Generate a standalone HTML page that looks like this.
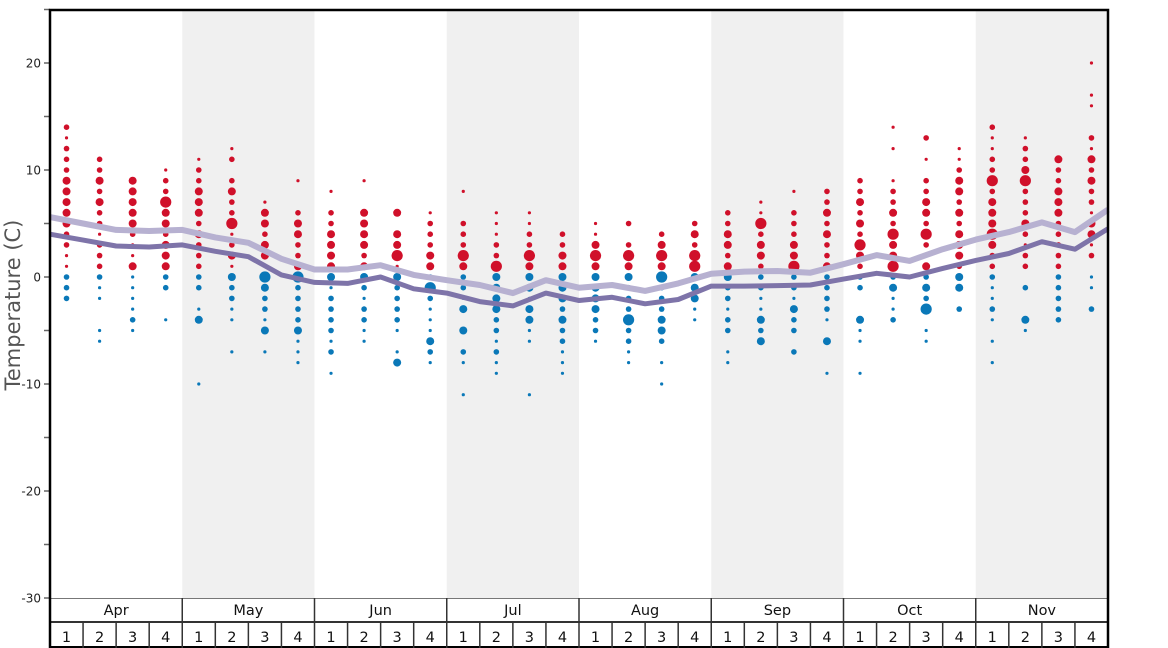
<!DOCTYPE html>
<html><head><meta charset="utf-8"><style>
html,body{margin:0;padding:0;background:#fff;}
svg{display:block;font-family:"DejaVu Sans","Liberation Sans",sans-serif;}
</style></head><body>
<svg id="chart" width="1168" height="648" viewBox="0 0 1168 648"></svg>
<script>
const months = ["Apr","May","Jun","Jul","Aug","Sep","Oct","Nov"];
const yTicks = [20,10,0,-10,-20,-30];
const weekTemps = [
[14,13,12,11,10,9,8,7,6,5,4,3,2,1,0,-1,-2],
[11,10,9,8,7,6,5,4,3,2,1,0,-1,-2,-5,-6],
[9,8,7,6,5,4,3,2,1,0,-1,-2,-3,-4,-5],
[10,9,8,7,6,5,4,3,2,1,0,-1,-4],
[11,10,9,8,7,6,5,4,3,2,1,0,-1,-3,-4,-10],
[12,11,9,8,7,6,5,4,3,2,1,0,-1,-2,-3,-4,-7],
[7,6,5,4,3,2,1,0,-1,-2,-3,-4,-5,-7],
[9,6,5,4,3,2,1,0,-1,-2,-3,-4,-5,-6,-7,-8],
[8,6,5,4,3,2,1,0,-1,-2,-3,-4,-5,-6,-7,-9],
[9,6,5,4,3,2,1,0,-1,-2,-3,-4,-5,-6],
[6,4,3,2,1,0,-1,-2,-3,-4,-5,-7,-8],
[6,5,4,3,2,1,0,-1,-2,-3,-4,-5,-6,-7,-8],
[8,5,4,3,2,1,0,-1,-2,-3,-5,-7,-8,-11],
[6,5,4,3,2,1,0,-1,-2,-3,-4,-5,-6,-7,-8,-9],
[6,5,4,3,2,1,0,-1,-2,-3,-4,-5,-6,-11],
[4,3,2,1,0,-1,-2,-3,-4,-5,-6,-7,-8,-9],
[5,4,3,2,1,0,-1,-2,-3,-4,-5,-6],
[5,3,2,1,0,-1,-2,-3,-4,-5,-6,-7,-8],
[4,3,2,1,0,-1,-2,-3,-4,-5,-6,-8,-10],
[5,4,3,2,1,0,-1,-2,-3,-4],
[6,5,4,3,2,1,0,-1,-2,-3,-4,-5,-7,-8],
[7,6,5,4,3,2,1,0,-1,-2,-3,-4,-5,-6],
[8,6,5,4,3,2,1,0,-1,-2,-3,-4,-5,-7],
[8,7,6,5,4,3,2,1,0,-1,-2,-3,-4,-6,-9],
[9,8,7,6,5,4,3,2,1,0,-1,-4,-5,-6,-9],
[14,12,9,8,7,6,5,4,3,2,1,0,-1,-2,-3,-4,-5],
[13,11,9,8,7,6,5,4,3,2,1,0,-1,-2,-3,-5,-6],
[12,11,10,9,8,7,6,5,4,3,2,1,0,-1,-3],
[14,13,12,11,10,9,8,7,6,5,4,3,2,1,0,-1,-2,-3,-4,-6,-8],
[13,12,11,10,9,8,7,6,5,4,3,2,1,-1,-4,-5],
[11,10,9,8,7,6,5,4,3,2,1,0,-1,-2,-3,-4],
[20,17,16,13,12,11,10,9,8,7,6,5,4,3,2,0,-1,-3]
];
const weekSizes = [
[2,1,2,2,2,3,3,3,3,3,2,2,1,1,2,2,2],
[2,2,3,2,3,2,2,1,2,2,2,2,1,1,1,1],
[3,3,3,3,3,2,1,1,3,1,1,1,1,2,1],
[1,2,2,4,3,3,2,3,3,3,2,2,1],
[1,2,2,3,3,3,2,3,2,2,2,2,2,1,3,1],
[1,2,2,3,2,2,4,1,2,3,1,3,2,2,1,1,1],
[1,3,3,2,3,3,1,4,3,2,2,1,3,1],
[1,2,3,3,2,2,3,4,2,2,2,2,3,1,1,1],
[1,2,2,3,3,3,3,3,1,2,2,2,2,1,2,1],
[1,3,3,3,3,2,3,3,2,1,2,2,1,1],
[3,3,3,4,1,3,2,2,2,2,1,1,3],
[1,2,2,2,3,3,2,4,2,1,1,1,3,2,1],
[1,2,2,2,4,3,2,2,1,3,3,2,1,1],
[1,1,1,2,2,4,3,3,3,3,2,2,1,2,1,1],
[1,1,2,2,4,3,3,3,1,3,3,1,1,1],
[2,2,3,3,3,3,3,2,3,2,2,1,1,1],
[1,1,3,4,3,3,3,3,3,2,2,1],
[2,2,4,3,3,2,2,2,4,2,2,1,1],
[2,3,4,3,4,2,2,2,3,3,2,1,1],
[2,3,2,4,4,3,3,3,1,1],
[2,2,3,3,2,3,3,2,2,1,2,2,1,1],
[1,1,4,2,3,3,2,2,2,1,1,3,2,3],
[1,2,2,2,3,3,4,2,2,1,3,2,2,2],
[2,2,3,2,3,2,2,3,2,2,2,2,1,3,1],
[2,2,3,2,3,2,4,3,2,2,2,3,1,1,1],
[1,1,1,2,2,3,2,4,3,3,4,2,3,1,1,2],
[2,1,2,2,3,3,2,4,2,1,3,2,3,2,4,1,1],
[1,1,2,3,3,2,3,2,3,3,3,2,3,3,2],
[2,1,1,2,2,4,2,3,3,3,4,3,2,2,2,1,1,2,1,1,1],
[1,2,2,3,4,2,2,2,3,2,1,2,2,2,3,1],
[3,2,2,3,3,3,2,2,2,2,2,2,2,2,2,2],
[1,1,1,2,1,3,2,3,2,2,1,3,3,1,2,1,1,2]
];
const lightLine = [5.6,5.0,4.4,4.3,4.4,3.7,3.2,1.7,0.7,0.7,1.1,0.2,-0.3,-0.75,-1.5,-0.3,-1.0,-0.75,-1.3,-0.6,0.3,0.5,0.56,0.4,1.2,2.05,1.5,2.6,3.5,4.2,5.1,4.2,6.3];
const darkLine = [4.0,3.45,2.9,2.8,3.0,2.4,1.9,0.2,-0.5,-0.6,0.0,-1.1,-1.5,-2.3,-2.7,-1.5,-2.2,-1.9,-2.5,-2.1,-0.85,-0.85,-0.8,-0.75,-0.2,0.35,0.0,0.8,1.55,2.2,3.3,2.6,4.5];

const NS="http://www.w3.org/2000/svg";
const svg=document.getElementById('chart');
const X0=50,X1=1108,YT=10,YB=598;
const NW=weekTemps.length, WW=(X1-X0)/NW, MW=WW*4;
const y=t=>277-t*10.7;
const xw=i=>X0+WW*(i+0.5);
const xb=k=>X0+WW*k;
const R=[0,1.6,2.8,4,5.6];
function mk(tag,attrs){const e=document.createElementNS(NS,tag);for(const k in attrs)e.setAttribute(k,attrs[k]);svg.appendChild(e);return e;}

months.forEach((m,i)=>{ if(i%2===1){
  const r=mk('rect',{x:X0+MW*i,y:YT,width:MW,height:YB-YT,fill:'#f0f0f0'});
  
  
}});

weekTemps.forEach((temps,i)=>{
  temps.forEach((t,j)=>{
    const c=mk('circle',{cx:xw(i),cy:y(t),r:R[weekSizes[i][j]],fill:t>0?'#d0102a':'#0a78b8'});
    
    
  });
});

function path(arr){return arr.map((v,k)=>(k?'L':'M')+xb(k).toFixed(1)+' '+y(v).toFixed(1)).join(' ');}
const l1=mk('path',{d:path(lightLine),fill:'none',stroke:'#b7b1d1',"stroke-width":6,"stroke-linejoin":"round"});


const l2=mk('path',{d:path(darkLine),fill:'none',stroke:'#7e74a9',"stroke-width":5,"stroke-linejoin":"round"});



for(let t=-30;t<=25;t+=5){
  const tk=mk('line',{x1:44,x2:50,y1:y(t),y2:y(t),stroke:'#666',"stroke-width":1.5});
  
  
}
yTicks.forEach(t=>{
  const tx=mk('text',{x:41,y:y(t)+4.5,"text-anchor":"end","font-size":12,fill:'#222'});
  tx.textContent=t;
  
  
});
const title=mk('text',{x:0,y:0,transform:'translate(20,305) rotate(-90)',"text-anchor":"middle","font-size":21,fill:'#555'});
title.textContent='Temperature (C)';



const base=mk('line',{x1:X0,x2:X1,y1:598.5,y2:598.5,stroke:'#777',"stroke-width":1});


const mid=mk('line',{x1:X0,x2:X1,y1:622,y2:622,stroke:'#333',"stroke-width":2});


const bot=mk('line',{x1:X0,x2:X1,y1:647,y2:647,stroke:'#000',"stroke-width":2});


months.forEach((m,i)=>{
  if(i>0){const s=mk('line',{x1:X0+MW*i,x2:X0+MW*i,y1:598,y2:622,stroke:'#333',"stroke-width":1.5});
  
  }
  const t=mk('text',{x:X0+MW*(i+0.5),y:615,"text-anchor":"middle","font-size":14.5,fill:'#111'});
  t.textContent=m;
  
  
});
for(let i=0;i<NW;i++){
  if(i>0){const s=mk('line',{x1:xb(i),x2:xb(i),y1:622,y2:648,stroke:'#333',"stroke-width":1.5});
  
  }
  const t=mk('text',{x:xw(i),y:642,"text-anchor":"middle","font-size":14.5,fill:'#111'});
  t.textContent=(i%4)+1;
  
  
}

const fr=mk('path',{d:`M${X0} 648 L${X0} ${YT} L${X1} ${YT} L${X1} 648`,fill:'none',stroke:'#000',"stroke-width":2.5});


</script>
</body></html>
